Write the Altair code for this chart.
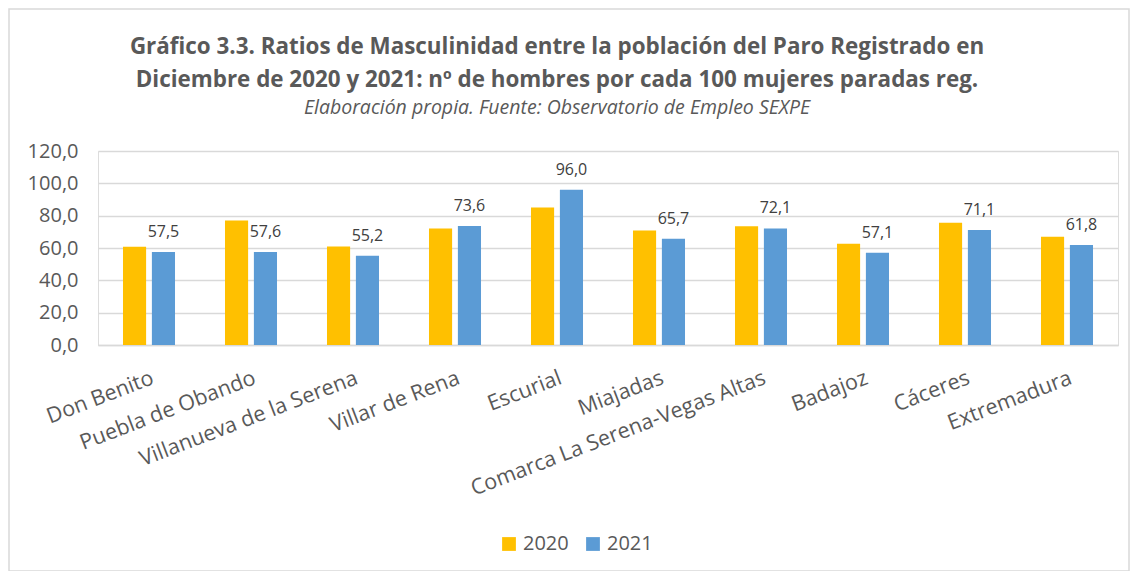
import altair as alt
import pandas as pd

categories = ["Don Benito", "Puebla de Obando", "Villanueva de la Serena", "Villar de Rena",
              "Escurial", "Miajadas", "Comarca La Serena-Vegas Altas", "Badajoz", "Cáceres",
              "Extremadura"]
values_2020 = [60.7, 77.0, 61.0, 72.1, 85.0, 70.8, 73.5, 62.6, 75.6, 66.9]
values_2021 = [57.5, 57.6, 55.2, 73.6, 96.0, 65.7, 72.1, 57.1, 71.1, 61.8]
years = ["2020", "2021"]
y_ticks = [0, 20, 40, 60, 80, 100, 120]

rows = []
for c, a, b in zip(categories, values_2020, values_2021):
    rows.append({"cat": c, "year": "2020", "value": a})
    rows.append({"cat": c, "year": "2021", "value": b})
df = pd.DataFrame(rows)

FONT = "Open Sans"
GREY = "#595959"

x_enc = alt.X("cat:N", sort=categories, title=None,
              scale=alt.Scale(paddingInner=0.49, paddingOuter=0.245),
              axis=alt.Axis(labelAngle=-21, labelAlign="right", labelBaseline="top",
                            labelPadding=22, labelFontSize=21.5, labelColor=GREY, labelFont=FONT,
                            ticks=False, domainColor="#D9D9D9", domainWidth=1.3,
                            labelOverlap=False, labelLimit=400))
xoff_enc = alt.XOffset("year:N", scale=alt.Scale(domain=years, paddingInner=0.2))
y_enc = alt.Y("value:Q", title=None, scale=alt.Scale(domain=[0, 120]),
              axis=alt.Axis(values=y_ticks, labelExpr="replace(format(datum.value, '.1f'), '.', ',')",
                            labelFontSize=20, labelColor=GREY, labelFont=FONT, labelPadding=20,
                            ticks=False, tickSize=0, domain=False, gridColor="#D9D9D9",
                            gridWidth=1.3))

bars = alt.Chart(df).mark_bar().encode(
    x=x_enc, xOffset=xoff_enc, y=y_enc,
    color=alt.Color("year:N", scale=alt.Scale(domain=years, range=["#FFC000", "#5B9BD5"]),
                    legend=alt.Legend(title=None, orient="none", legendX=401, legendY=383,
                                      direction="horizontal", symbolType="square",
                                      symbolSize=190, symbolStrokeWidth=0, labelFontSize=20,
                                      labelFont=FONT, labelColor=GREY, labelOffset=4,
                                      columnPadding=14))
)

labels = alt.Chart(df).transform_filter(alt.datum.year == "2021").transform_calculate(
    lab="replace(format(datum.value, '.1f'), '.', ',')"
).mark_text(font=FONT, fontSize=16, color="#404040", baseline="alphabetic", dy=-15).encode(
    x=x_enc, xOffset=xoff_enc, y=y_enc, text="lab:N"
)

border = alt.Chart(pd.DataFrame({"a": [0]})).mark_rect(
    fill=None, stroke="#D9D9D9", strokeWidth=1.5, clip=False
).encode(x=alt.value(-89), x2=alt.value(1031), y=alt.value(-142), y2=alt.value(420))

chart = alt.layer(border, bars, labels).properties(
    width=1020, height=194,
    padding={"left": 90, "top": 143, "right": 20, "bottom": 226},
    autosize=alt.AutoSizeParams(type="none"),
    title=alt.TitleParams(
        text=["Gráfico 3.3. Ratios de Masculinidad entre la población del Paro Registrado en",
              "Diciembre de 2020 y 2021: nº de hombres por cada 100 mujeres paradas reg."],
        subtitle="Elaboración propia. Fuente: Observatorio de Empleo SEXPE",
        font=FONT, fontSize=22.4, fontWeight="bold", color=GREY, lineHeight=33,
        subtitleFont=FONT, subtitleFontSize=19.5, subtitleFontStyle="italic",
        subtitleColor=GREY, subtitlePadding=7, anchor="middle", dx=-51, offset=-109)
).configure_view(stroke=None).configure(background="white")

chart.save("out.html", embed_options={"renderer": "svg", "actions": False})
